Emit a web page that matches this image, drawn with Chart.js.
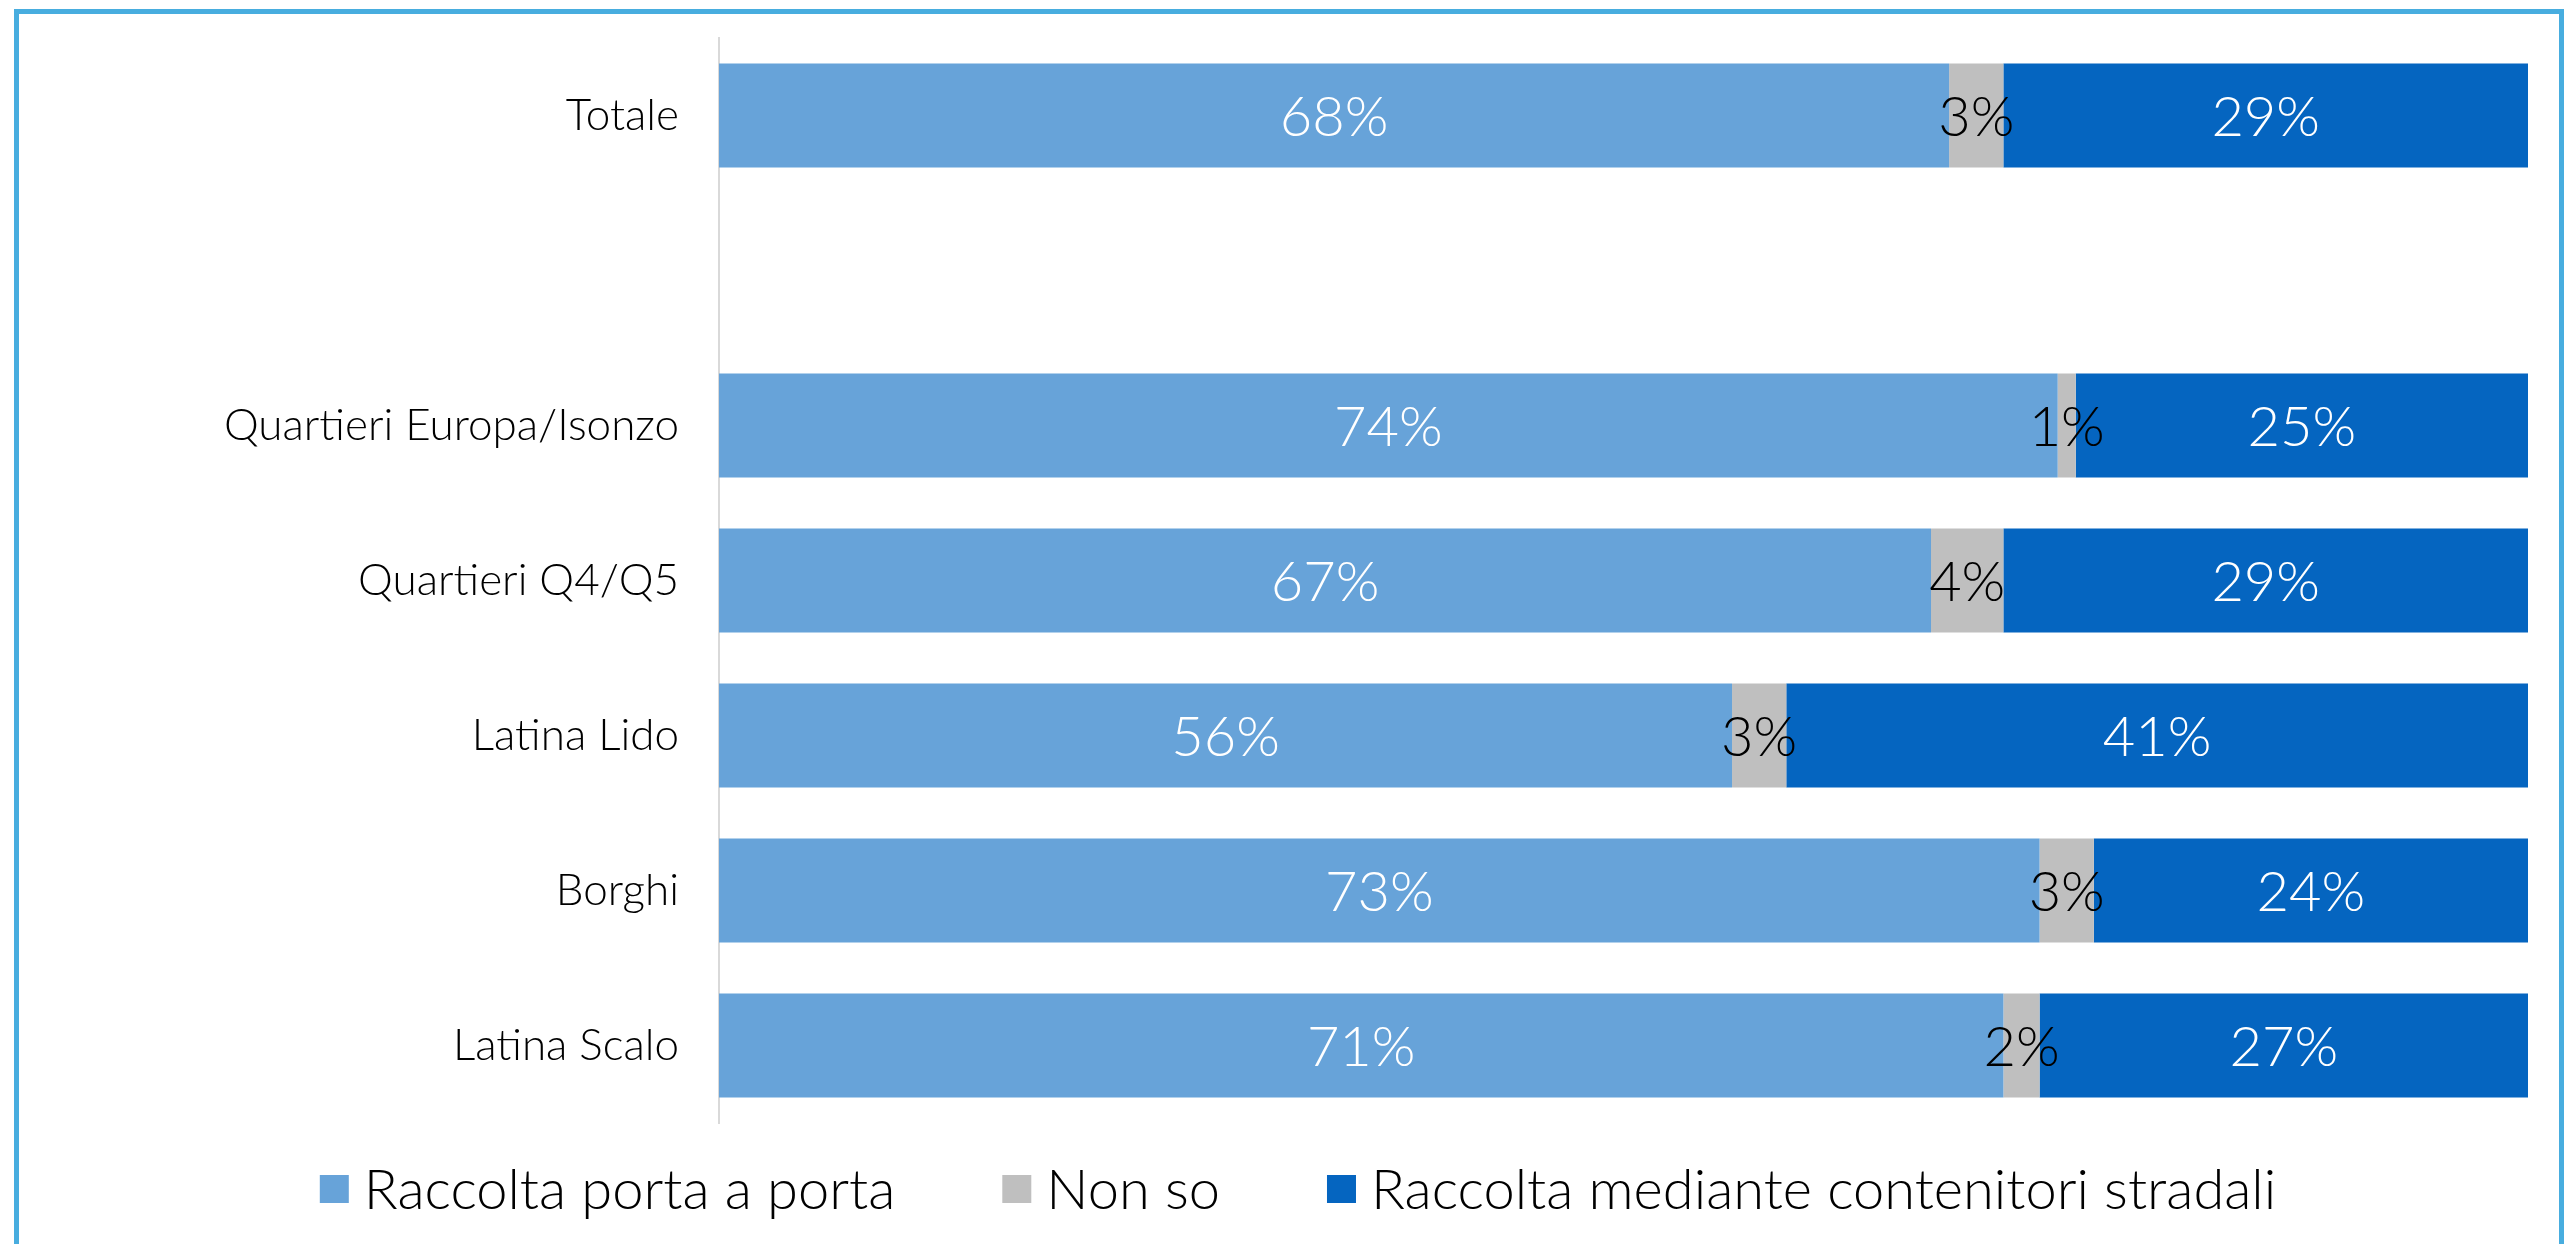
<!DOCTYPE html>
<html>
<head>
<meta charset="utf-8">
<script src="https://cdn.jsdelivr.net/npm/chart.js@4/dist/chart.umd.min.js"></script>
<style>
  html, body { margin: 0; padding: 0; background: #fff; overflow: hidden; }
  #frame {
    position: absolute; left: 14px; top: 9px; width: 2550px; height: 1400px;
    border: 5px solid #48addf; box-sizing: border-box;
  }
  #wrap { position: absolute; left: 0; top: 0; width: 2572px; height: 1244px; }
</style>
</head>
<body>
<div id="frame"></div>
<div id="wrap"><canvas id="myChart" width="2572" height="1244"></canvas></div>
<script>
const categories = ["Totale", "", "Quartieri Europa/Isonzo", "Quartieri Q4/Q5", "Latina Lido", "Borghi", "Latina Scalo"];
const portaAPorta = [68, null, 74, 67, 56, 73, 71];
const nonSo = [3, null, 1, 4, 3, 3, 2];
const contenitori = [29, null, 25, 29, 41, 24, 27];
const seriesNames = ["Raccolta porta a porta", "Non so", "Raccolta mediante contenitori stradali"];

const FONT = "Lato";
const labelColors = ["#ffffff", "#000000", "#ffffff"];

// values written inside each segment
const barLabels = {
  id: "barLabels",
  afterDatasetsDraw(chart) {
    const ctx = chart.ctx;
    ctx.save();
    ctx.font = "300 56px " + FONT;
    ctx.textAlign = "center";
    ctx.textBaseline = "middle";
    chart.data.datasets.forEach((ds, i) => {
      const meta = chart.getDatasetMeta(i);
      meta.data.forEach((bar, j) => {
        const v = ds.data[j];
        if (v == null) return;
        ctx.fillStyle = labelColors[i];
        ctx.fillText(v + "%", (bar.x + bar.base) / 2, bar.y + 2);
      });
    });
    ctx.restore();
  },
};

// legend row under the plot, drawn by hand to get the spacing right
const legendRow = {
  id: "legendRow",
  afterDraw(chart) {
    const ctx = chart.ctx;
    ctx.save();
    ctx.font = "300 56px " + FONT;
    ctx.textBaseline = "middle";
    const box = 29, gapText = 15, gapItem = 107;
    const items = chart.data.datasets.map((ds) => ({
      text: ds.label,
      color: ds.backgroundColor,
      w: ctx.measureText(ds.label).width,
    }));
    const total = items.reduce((s, it) => s + box + gapText + it.w, 0) + gapItem * (items.length - 1);
    let x = 1298 - total / 2;
    const y = 1189;
    items.forEach((it) => {
      ctx.fillStyle = it.color;
      ctx.fillRect(x, y - 14, box, 28);
      ctx.fillStyle = "#000";
      ctx.fillText(it.text, x + box + gapText, y + 2);
      x += box + gapText + it.w + gapItem;
    });
    ctx.restore();
  },
};

function draw() {
  const ctx = document.getElementById("myChart").getContext("2d");
  new Chart(ctx, {
    type: "bar",
    data: {
      labels: categories,
      datasets: [
        { label: seriesNames[0], data: portaAPorta, backgroundColor: "#67a3d9" },
        { label: seriesNames[1], data: nonSo, backgroundColor: "#bfbfbf" },
        { label: seriesNames[2], data: contenitori, backgroundColor: "#0565c0" },
      ],
    },
    options: {
      indexAxis: "y",
      responsive: false,
      animation: false,
      barPercentage: 0.671,
      categoryPercentage: 1,
      layout: { padding: { left: 19, right: 44, top: 38, bottom: 121 } },
      plugins: {
        legend: { display: false },
        tooltip: { enabled: false },
      },
      scales: {
        x: { stacked: true, min: 0, max: 100, display: false },
        y: {
          stacked: true,
          grid: { display: false, drawTicks: false },
          border: { display: true, color: "#d9d9d9", width: 2 },
          ticks: {
            color: "#000",
            padding: 40,
            font: { family: FONT, size: 44, weight: 300 },
          },
          afterFit(scale) {
            scale.width = 700;
            // labels sit inside their bands, no extra room needed above/below
            scale.paddingTop = 0;
            scale.paddingBottom = 0;
          },
        },
      },
    },
    plugins: [barLabels, legendRow],
  });
}

document.fonts.load("300 44px " + FONT).then(draw, draw);
</script>
</body>
</html>
